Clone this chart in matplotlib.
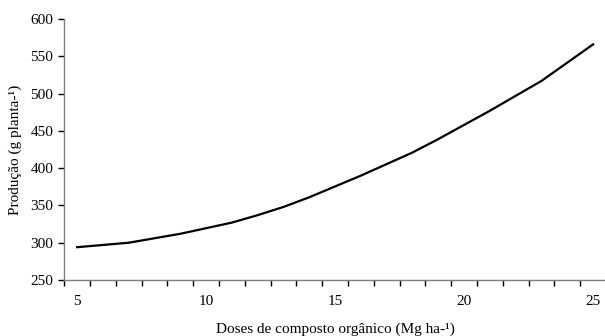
import matplotlib
matplotlib.use('Agg')
import matplotlib.pyplot as plt
import numpy as np

# Values
doses = [5, 7, 9, 11, 12, 13, 14, 16, 18, 19, 21, 23, 25]
producao = [294, 300, 312, 327, 337, 348, 361, 390, 421, 439, 477, 517, 566]
x_labels = [5, 10, 15, 20, 25]
y_ticks = [250, 300, 350, 400, 450, 500, 550, 600]


def main():

    plt.rcParams['font.family'] = ['Liberation Serif', 'DejaVu Serif']
    plt.rcParams['font.size'] = 11

    fig = plt.figure(figsize=(6.05, 3.36), dpi=100)

    # Axes run past the right edge, as in the cropped original
    ax = fig.add_axes([64.3 / 605, 56 / 336, 541.7 / 605, 261 / 336])

    ax.plot(doses, producao, color='black', linewidth=1.6,
            solid_joinstyle='round')

    # Category style x axis: tick marks between categories
    ax.set_xlim(4.5, 25.5)
    ax.set_xticks(x_labels)
    ax.set_xticks(np.arange(4.5, 25.6, 1), minor=True)
    ax.tick_params(axis='x', which='major', length=0, pad=11)
    ax.tick_params(axis='x', which='minor', length=4, width=1,
                   direction='out', color='black')

    ax.set_ylim(250, 600)
    ax.set_yticks(y_ticks)
    ax.tick_params(axis='y', length=4, width=1, direction='out',
                   color='black', pad=4)

    for side in ['top', 'right']:
        ax.spines[side].set_visible(False)
    for side in ['left', 'bottom']:
        ax.spines[side].set_color('#7f7f7f')
        ax.spines[side].set_linewidth(1)

    ax.set_xlabel('Doses de composto orgânico (Mg ha-¹)', labelpad=10)
    ax.set_ylabel('Produção (g planta-¹)', labelpad=6)

    fig.savefig('out.png', dpi=100)
    plt.close()


if __name__ == "__main__":
    main()
